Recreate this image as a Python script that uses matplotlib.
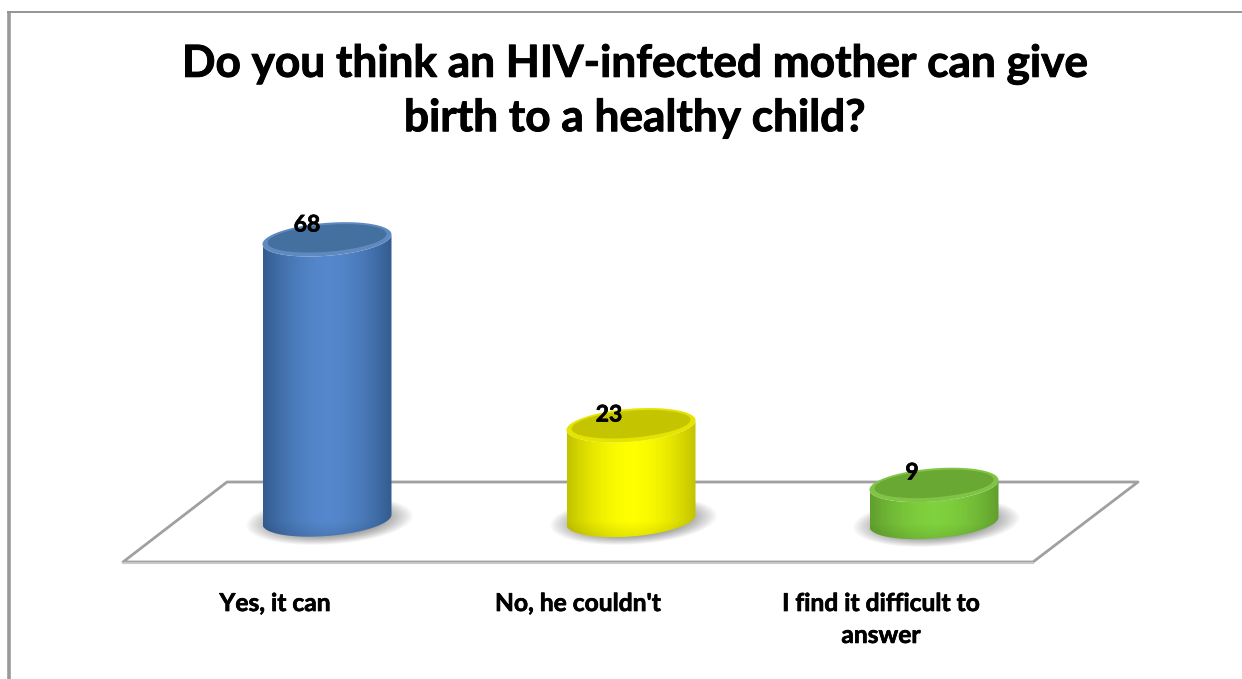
import numpy as np
import matplotlib
matplotlib.use('Agg')
import matplotlib.pyplot as plt
import matplotlib.patheffects as pe
from matplotlib.patches import Polygon

# Data
title_text = "Do you think an HIV-infected mother can give\nbirth to a healthy child?"
categories = ["Yes, it can", "No, he couldn't", "I find it difficult to\nanswer"]
values = [68, 23, 9]

# Wyglad
edge_colors = [(0.20, 0.36, 0.56), (0.76, 0.76, 0.0), (0.38, 0.62, 0.18)]
mid_colors = [(0.33, 0.53, 0.80), (1.0, 1.0, 0.0), (0.50, 0.82, 0.24)]
top_colors = ['#44709f', '#c4c400', '#69a832']
rim_colors = ['#5f8ac0', '#e4e400', '#80c445']
centers = [327, 631, 934]
label_x = [275, 578, 881]
value_x = [307, 609, 912]
value_y = [225, 415, 473]
bases = [519.5, 520, 522]
px_per_unit = 4.12
rx = 64.5
ry = 16.5
tilt = -0.075

plt.rcParams['font.family'] = ['Lato', 'DejaVu Sans']

fig = plt.figure(figsize=(12.42, 6.79), dpi=100)
ax = fig.add_axes([0, 0, 1, 1])
ax.set_xlim(0, 1242)
ax.set_ylim(679, 0)
ax.axis('off')

# Ramka
ax.plot([8.5, 8.5], [12, 679], color='#9a9a9a', linewidth=2.6, solid_capstyle='butt')
ax.plot([7, 1242], [12, 12], color='#8c8c8c', linewidth=1.3, solid_capstyle='butt')

# Podloga
floor = Polygon([(227, 482), (1138, 482), (1033, 562), (123, 562)], closed=True,
                facecolor='white', edgecolor='#a0a0a0', linewidth=2.0, joinstyle='round')
ax.add_patch(floor)
ax.plot([123, 1033], [563, 563], color='#c8c8c8', linewidth=1.5)


def ellipse_pts(cx, cy, a, b, t):
    # elipsa pochylona jak w wykresie 3D
    x = cx + a * np.cos(t)
    y = cy + b * np.sin(t) + tilt * (x - cx)
    return np.column_stack([x, y])


def draw_shadow(cx, cy, sx, sy):
    xx, yy = np.meshgrid(np.linspace(-1, 1, 200), np.linspace(-1, 1, 80))
    yy = yy + 0.2 * xx
    alpha = np.clip(1.15 * (1 - (xx**2 + yy**2)), 0, 1) * 0.85
    img = np.zeros((80, 200, 4))
    img[..., :3] = 0.38
    img[..., 3] = alpha
    ax.imshow(img, extent=(cx - sx, cx + sx, cy + sy, cy - sy), zorder=2,
              interpolation='bilinear', aspect='auto')


def draw_cylinder(cx, base, value, edge, mid, top_col, rim_col):
    top = base - value * px_per_unit
    t = np.linspace(np.pi, 0, 80)
    lower = ellipse_pts(cx, base, rx, ry, t)
    upper = ellipse_pts(cx, top, rx, ry, t)[::-1]
    body = Polygon(np.vstack([lower, upper]), closed=True, facecolor='none', edgecolor='none', zorder=3)
    ax.add_patch(body)

    h = 200
    w = 200
    xs = np.linspace(-1, 1, w)
    prof = np.clip(1 - np.abs(xs) ** 1.8, 0, 1)[None, :, None]
    y0 = top - ry - 8
    y1 = base + ry + 8
    ys = np.linspace(y0, y1, h)
    darken = np.clip((ys - (base + 2)) / (ry + 6), 0, 1)[:, None, None] * 0.15
    img = np.array(edge)[None, None, :] + (np.array(mid) - np.array(edge))[None, None, :] * prof
    img = np.clip(img * (1 - darken), 0, 1)
    im = ax.imshow(img, extent=(cx - rx, cx + rx, y1, y0), zorder=3,
                   interpolation='bilinear', aspect='auto')
    im.set_clip_path(body)

    # Gorna podstawa walca
    t2 = np.linspace(0, 2 * np.pi, 120)
    ax.add_patch(Polygon(ellipse_pts(cx, top, rx, ry, t2), closed=True, facecolor=rim_col,
                         edgecolor='none', zorder=4))
    ax.add_patch(Polygon(ellipse_pts(cx, top - 1, rx - 5, ry - 3, t2), closed=True, facecolor=top_col,
                         edgecolor='none', zorder=4))


for cx, base in zip(centers, bases):
    draw_shadow(cx + 2, base + 1, rx + 20, ry + 8)
for i in range(len(values)):
    draw_cylinder(centers[i], bases[i], values[i], edge_colors[i], mid_colors[i], top_colors[i], rim_colors[i])

bold = [pe.withStroke(linewidth=0.5, foreground='black')]

# Podpisy wartosci
for x, y, val in zip(value_x, value_y, values):
    ax.text(x, y, str(val), ha='center', va='center', fontsize=16.5, fontweight='bold', color='black',
            zorder=6, path_effects=bold)

# Podpisy kategorii
for x, lab in zip(label_x, categories):
    ax.text(x, 592, lab, ha='center', va='top', fontsize=17.7, fontweight='bold', color='black',
            linespacing=1.47, zorder=6, path_effects=bold)

ax.text(635, 91, title_text, ha='center', va='center', fontsize=31.8, fontweight='bold',
        color='black', linespacing=1.42, path_effects=[pe.withStroke(linewidth=0.7, foreground='black')])

fig.savefig('out.png', dpi=100)
